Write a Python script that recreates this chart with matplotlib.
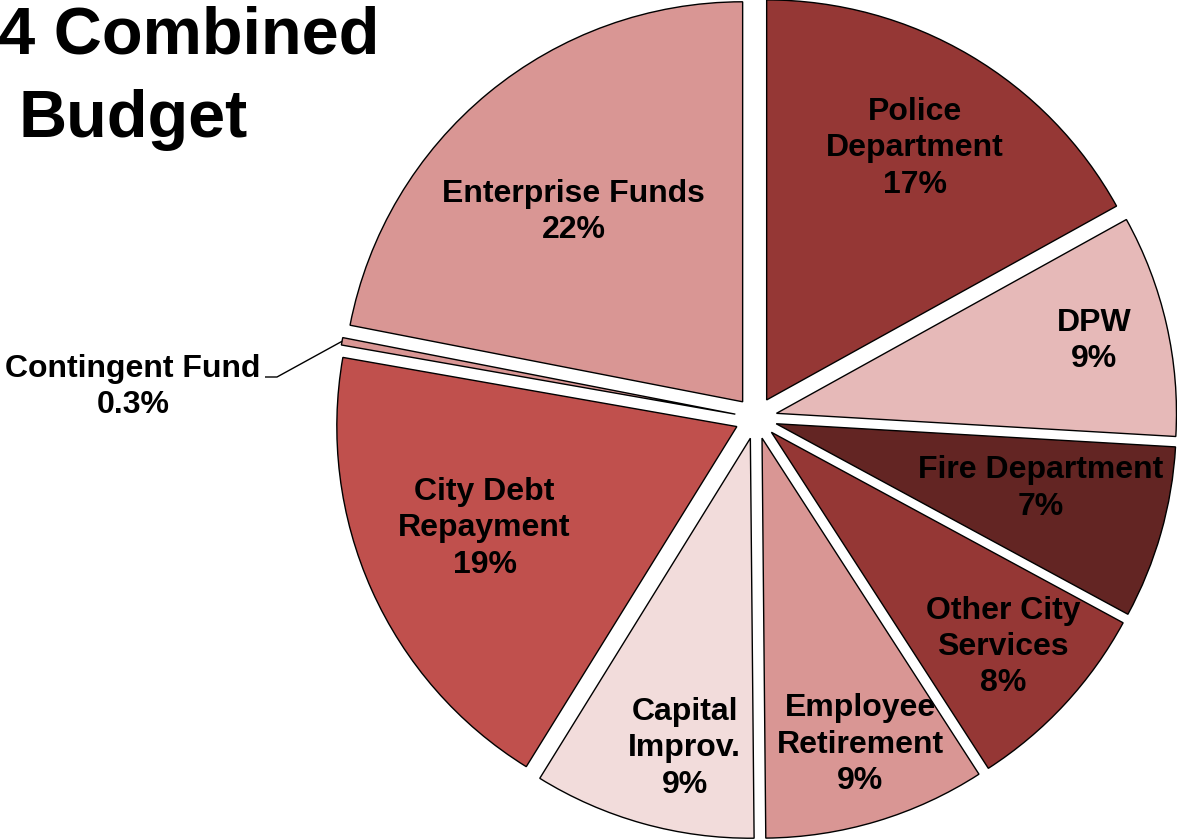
import numpy as np
import matplotlib
matplotlib.use("Agg")
import matplotlib.pyplot as plt

# Budget shares (percent), clockwise from 12 o'clock
categories = ["Police\nDepartment", "DPW", "Fire Department", "Other City\nServices",
              "Employee\nRetirement", "Capital\nImprov.", "City Debt\nRepayment",
              "Contingent Fund", "Enterprise Funds"]
shares = [17, 9, 7, 8, 9, 9, 19, 0.3, 22]
pct_labels = ["17%", "9%", "7%", "8%", "9%", "9%", "19%", "0.3%", "22%"]

colors = ["#953735", "#E6B9B8", "#632523", "#953735", "#D99694",
          "#F2DCDB", "#C0504D", "#D99694", "#D99694"]

# radial placement of each in-slice label, as a fraction of the radius
label_dist = [0.73, 0.815, 0.68, 0.79, 0.805, 0.792, 0.68, None, 0.635]
label_turn = [0.0, 0.0, 2.0, 0.0, 1.0, 3.4, -2.0, 0.0, 2.0]

plt.rcParams["font.family"] = ["Liberation Sans", "DejaVu Sans"]

W, H = 1177, 839
fig = plt.figure(figsize=(W / 100, H / 100), dpi=100)
ax = fig.add_axes([0, 0, 1, 1])

cx, cy, R = 756, 421, 400
gap = 0.0525 * R
explode = [gap] * len(shares)

wedges, _ = ax.pie(shares, colors=colors, startangle=90, counterclock=False,
                   explode=explode, radius=R, center=(cx, cy),
                   wedgeprops=dict(edgecolor="black", linewidth=1.0),
                   normalize=True, frame=True)
ax.set_xlim(0, W)
ax.set_ylim(0, H)
ax.set_aspect("equal")
ax.axis("off")

lab_kw = dict(ha="center", va="center", fontsize=23, fontweight="bold",
              linespacing=1.28, color="black")

for i, w in enumerate(wedges):
    if label_dist[i] is None:
        continue
    mid = np.deg2rad((w.theta1 + w.theta2) / 2 + label_turn[i])
    d = label_dist[i] * R + explode[i]
    ax.text(cx + d * np.cos(mid), cy + d * np.sin(mid),
            f"{categories[i]}\n{pct_labels[i]}", **lab_kw)

# Contingent Fund label outside the pie, with a leader line
ci = categories.index("Contingent Fund")
wc = wedges[ci]
mid = np.deg2rad((wc.theta1 + wc.theta2) / 2)
rr = R + explode[ci]
px, py = cx + rr * np.cos(mid), cy + rr * np.sin(mid)
ax.text(133, H - 387, f"{categories[ci]}\n{pct_labels[ci]}", **lab_kw)
ax.plot([265, 277, px], [H - 377, H - 377, py], color="black", linewidth=1.0,
        solid_capstyle="butt")

# Title
ax.text(133, H - 54, "2014 Combined", ha="center", va="baseline",
        fontsize=48, fontweight="bold", color="black")
ax.text(133, H - 137, "Budget", ha="center", va="baseline",
        fontsize=48, fontweight="bold", color="black")

fig.savefig("out.png", dpi=100, facecolor="white")
